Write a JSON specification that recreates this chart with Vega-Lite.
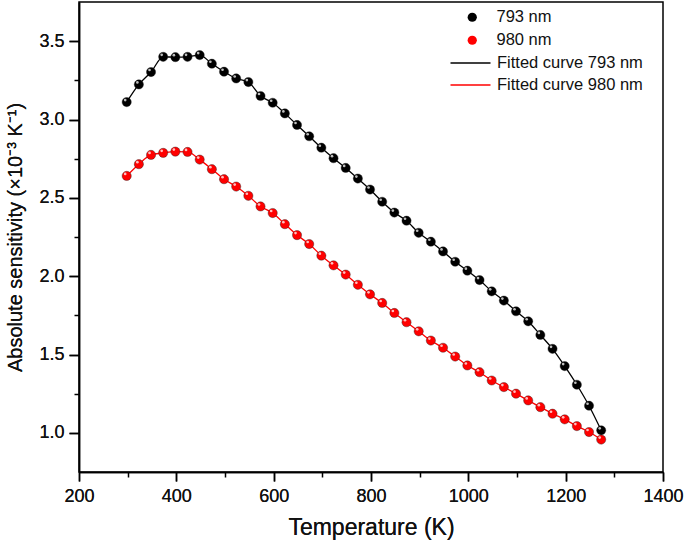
{
  "$schema": "https://vega.github.io/schema/vega-lite/v6.json",
  "autosize": {"type": "none"},
  "padding": {"left": 79, "top": 2, "right": 22, "bottom": 73},
  "width": 584,
  "height": 470,
  "background": "white",
  "config": {
    "font": "Liberation Sans",
    "view": {"stroke": "black", "strokeWidth": 1.5},
    "axis": {"grid": false, "ticks": true, "domainColor": "black", "domainWidth": 1.5, "tickColor": "black", "tickWidth": 1.5, "tickOpacity": 1, "labelColor": "#111", "titleColor": "#111", "labelFont": "Liberation Sans", "titleFont": "Liberation Sans", "labelFontSize": 18, "titleFontSize": 20, "titleFontWeight": "normal", "labelOverlap": false, "labelFlush": false},
    "legend": {"labelFont": "Liberation Sans", "labelFontSize": 16.5, "labelColor": "#111", "padding": 0, "rowPadding": 6}
  },
  "datasets": {
    "s": [
      {"T": 298, "S": 3.111, "series": "793 nm", "curve": "Fitted curve 793 nm"},
      {"T": 323, "S": 3.224, "series": "793 nm", "curve": "Fitted curve 793 nm"},
      {"T": 348, "S": 3.303, "series": "793 nm", "curve": "Fitted curve 793 nm"},
      {"T": 373, "S": 3.4, "series": "793 nm", "curve": "Fitted curve 793 nm"},
      {"T": 398, "S": 3.398, "series": "793 nm", "curve": "Fitted curve 793 nm"},
      {"T": 423, "S": 3.4, "series": "793 nm", "curve": "Fitted curve 793 nm"},
      {"T": 448, "S": 3.411, "series": "793 nm", "curve": "Fitted curve 793 nm"},
      {"T": 473, "S": 3.356, "series": "793 nm", "curve": "Fitted curve 793 nm"},
      {"T": 498, "S": 3.305, "series": "793 nm", "curve": "Fitted curve 793 nm"},
      {"T": 523, "S": 3.262, "series": "793 nm", "curve": "Fitted curve 793 nm"},
      {"T": 548, "S": 3.239, "series": "793 nm", "curve": "Fitted curve 793 nm"},
      {"T": 573, "S": 3.15, "series": "793 nm", "curve": "Fitted curve 793 nm"},
      {"T": 598, "S": 3.107, "series": "793 nm", "curve": "Fitted curve 793 nm"},
      {"T": 623, "S": 3.039, "series": "793 nm", "curve": "Fitted curve 793 nm"},
      {"T": 648, "S": 2.965, "series": "793 nm", "curve": "Fitted curve 793 nm"},
      {"T": 673, "S": 2.893, "series": "793 nm", "curve": "Fitted curve 793 nm"},
      {"T": 698, "S": 2.82, "series": "793 nm", "curve": "Fitted curve 793 nm"},
      {"T": 723, "S": 2.753, "series": "793 nm", "curve": "Fitted curve 793 nm"},
      {"T": 748, "S": 2.691, "series": "793 nm", "curve": "Fitted curve 793 nm"},
      {"T": 773, "S": 2.623, "series": "793 nm", "curve": "Fitted curve 793 nm"},
      {"T": 798, "S": 2.553, "series": "793 nm", "curve": "Fitted curve 793 nm"},
      {"T": 823, "S": 2.475, "series": "793 nm", "curve": "Fitted curve 793 nm"},
      {"T": 848, "S": 2.406, "series": "793 nm", "curve": "Fitted curve 793 nm"},
      {"T": 873, "S": 2.354, "series": "793 nm", "curve": "Fitted curve 793 nm"},
      {"T": 898, "S": 2.277, "series": "793 nm", "curve": "Fitted curve 793 nm"},
      {"T": 923, "S": 2.22, "series": "793 nm", "curve": "Fitted curve 793 nm"},
      {"T": 948, "S": 2.158, "series": "793 nm", "curve": "Fitted curve 793 nm"},
      {"T": 973, "S": 2.092, "series": "793 nm", "curve": "Fitted curve 793 nm"},
      {"T": 998, "S": 2.035, "series": "793 nm", "curve": "Fitted curve 793 nm"},
      {"T": 1023, "S": 1.975, "series": "793 nm", "curve": "Fitted curve 793 nm"},
      {"T": 1048, "S": 1.903, "series": "793 nm", "curve": "Fitted curve 793 nm"},
      {"T": 1073, "S": 1.844, "series": "793 nm", "curve": "Fitted curve 793 nm"},
      {"T": 1098, "S": 1.776, "series": "793 nm", "curve": "Fitted curve 793 nm"},
      {"T": 1123, "S": 1.712, "series": "793 nm", "curve": "Fitted curve 793 nm"},
      {"T": 1148, "S": 1.625, "series": "793 nm", "curve": "Fitted curve 793 nm"},
      {"T": 1173, "S": 1.536, "series": "793 nm", "curve": "Fitted curve 793 nm"},
      {"T": 1198, "S": 1.426, "series": "793 nm", "curve": "Fitted curve 793 nm"},
      {"T": 1223, "S": 1.307, "series": "793 nm", "curve": "Fitted curve 793 nm"},
      {"T": 1248, "S": 1.173, "series": "793 nm", "curve": "Fitted curve 793 nm"},
      {"T": 1273, "S": 1.016, "series": "793 nm", "curve": "Fitted curve 793 nm"},
      {"T": 298, "S": 2.64, "series": "980 nm", "curve": "Fitted curve 980 nm"},
      {"T": 323, "S": 2.715, "series": "980 nm", "curve": "Fitted curve 980 nm"},
      {"T": 348, "S": 2.774, "series": "980 nm", "curve": "Fitted curve 980 nm"},
      {"T": 373, "S": 2.787, "series": "980 nm", "curve": "Fitted curve 980 nm"},
      {"T": 398, "S": 2.795, "series": "980 nm", "curve": "Fitted curve 980 nm"},
      {"T": 423, "S": 2.793, "series": "980 nm", "curve": "Fitted curve 980 nm"},
      {"T": 448, "S": 2.744, "series": "980 nm", "curve": "Fitted curve 980 nm"},
      {"T": 473, "S": 2.683, "series": "980 nm", "curve": "Fitted curve 980 nm"},
      {"T": 498, "S": 2.619, "series": "980 nm", "curve": "Fitted curve 980 nm"},
      {"T": 523, "S": 2.572, "series": "980 nm", "curve": "Fitted curve 980 nm"},
      {"T": 548, "S": 2.513, "series": "980 nm", "curve": "Fitted curve 980 nm"},
      {"T": 573, "S": 2.445, "series": "980 nm", "curve": "Fitted curve 980 nm"},
      {"T": 598, "S": 2.403, "series": "980 nm", "curve": "Fitted curve 980 nm"},
      {"T": 623, "S": 2.332, "series": "980 nm", "curve": "Fitted curve 980 nm"},
      {"T": 648, "S": 2.262, "series": "980 nm", "curve": "Fitted curve 980 nm"},
      {"T": 673, "S": 2.205, "series": "980 nm", "curve": "Fitted curve 980 nm"},
      {"T": 698, "S": 2.131, "series": "980 nm", "curve": "Fitted curve 980 nm"},
      {"T": 723, "S": 2.069, "series": "980 nm", "curve": "Fitted curve 980 nm"},
      {"T": 748, "S": 2.01, "series": "980 nm", "curve": "Fitted curve 980 nm"},
      {"T": 773, "S": 1.945, "series": "980 nm", "curve": "Fitted curve 980 nm"},
      {"T": 798, "S": 1.884, "series": "980 nm", "curve": "Fitted curve 980 nm"},
      {"T": 823, "S": 1.829, "series": "980 nm", "curve": "Fitted curve 980 nm"},
      {"T": 848, "S": 1.765, "series": "980 nm", "curve": "Fitted curve 980 nm"},
      {"T": 873, "S": 1.706, "series": "980 nm", "curve": "Fitted curve 980 nm"},
      {"T": 898, "S": 1.648, "series": "980 nm", "curve": "Fitted curve 980 nm"},
      {"T": 923, "S": 1.589, "series": "980 nm", "curve": "Fitted curve 980 nm"},
      {"T": 948, "S": 1.543, "series": "980 nm", "curve": "Fitted curve 980 nm"},
      {"T": 973, "S": 1.487, "series": "980 nm", "curve": "Fitted curve 980 nm"},
      {"T": 998, "S": 1.43, "series": "980 nm", "curve": "Fitted curve 980 nm"},
      {"T": 1023, "S": 1.387, "series": "980 nm", "curve": "Fitted curve 980 nm"},
      {"T": 1048, "S": 1.334, "series": "980 nm", "curve": "Fitted curve 980 nm"},
      {"T": 1073, "S": 1.292, "series": "980 nm", "curve": "Fitted curve 980 nm"},
      {"T": 1098, "S": 1.25, "series": "980 nm", "curve": "Fitted curve 980 nm"},
      {"T": 1123, "S": 1.207, "series": "980 nm", "curve": "Fitted curve 980 nm"},
      {"T": 1148, "S": 1.164, "series": "980 nm", "curve": "Fitted curve 980 nm"},
      {"T": 1173, "S": 1.122, "series": "980 nm", "curve": "Fitted curve 980 nm"},
      {"T": 1198, "S": 1.086, "series": "980 nm", "curve": "Fitted curve 980 nm"},
      {"T": 1223, "S": 1.043, "series": "980 nm", "curve": "Fitted curve 980 nm"},
      {"T": 1248, "S": 1.005, "series": "980 nm", "curve": "Fitted curve 980 nm"},
      {"T": 1273, "S": 0.957, "series": "980 nm", "curve": "Fitted curve 980 nm"}
    ]
  },
  "data": {"name": "s"},
  "encoding": {
    "x": {
      "field": "T", "type": "quantitative",
      "scale": {"domain": [200, 1400], "nice": false, "zero": false},
      "axis": {
        "orient": "bottom",
        "title": "Temperature (K)",
        "titleFontSize": 23,
        "values": [200, 400, 600, 800, 1000, 1200, 1400],
        "format": "d",
        "ticks": true,
        "tickColor": "black",
        "tickSize": 9,
        "labelPadding": 6,
        "titlePadding": 11
      }
    },
    "y": {
      "field": "S", "type": "quantitative",
      "scale": {"domain": [0.75, 3.75], "nice": false, "zero": false},
      "axis": {
        "orient": "left",
        "title": "Absolute sensitivity (×10⁻³ K⁻¹)",
        "values": [1.0, 1.5, 2.0, 2.5, 3.0, 3.5],
        "format": ".1f",
        "ticks": true,
        "tickColor": "black",
        "tickSize": 10,
        "labelPadding": 5,
        "titlePadding": 13
      }
    }
  },
  "layer": [
    {
      "mark": {"type": "line", "interpolate": "monotone", "strokeWidth": 1.3},
      "encoding": {
        "stroke": {
          "field": "curve", "type": "nominal",
          "scale": {"domain": ["Fitted curve 793 nm", "Fitted curve 980 nm"], "range": ["#000000", "#ff0000"]},
          "legend": {"title": null, "orient": "none", "legendX": 380.5, "legendY": 50, "symbolType": "M-2,0H2", "symbolSize": 400, "symbolStrokeWidth": 1.5, "labelOffset": 15.5, "rowPadding": 2}
        }
      }
    },
    {
      "mark": {"type": "point", "filled": true, "opacity": 1, "size": 85, "stroke": "#222", "strokeWidth": 0.4},
      "encoding": {
        "fill": {
          "field": "series", "type": "nominal",
          "scale": {"domain": ["793 nm", "980 nm"], "range": ["#000000", "#ff0000"]},
          "legend": {"title": null, "orient": "none", "legendX": 385, "legendY": 7, "symbolType": "circle", "symbolSize": 85, "symbolStrokeWidth": 0, "labelOffset": 16}
        }
      }
    },
    {
      "mark": {"type": "point", "filled": true, "color": "white", "opacity": 0.75, "size": 7, "xOffset": -1.5, "yOffset": -2},
      "encoding": {
        "x": {
          "field": "T", "type": "quantitative",
          "axis": {"orient": "bottom", "title": null, "values": [300, 500, 700, 900, 1100, 1300], "labels": false, "domain": false, "ticks": true, "tickColor": "black", "tickSize": 5}
        },
        "y": {
          "field": "S", "type": "quantitative",
          "axis": {"orient": "left", "title": null, "values": [1.25, 1.75, 2.25, 2.75, 3.25], "labels": false, "domain": false, "ticks": true, "tickColor": "black", "tickSize": 5}
        }
      }
    }
  ],
  "resolve": {"axis": {"x": "independent", "y": "independent"}}
}
